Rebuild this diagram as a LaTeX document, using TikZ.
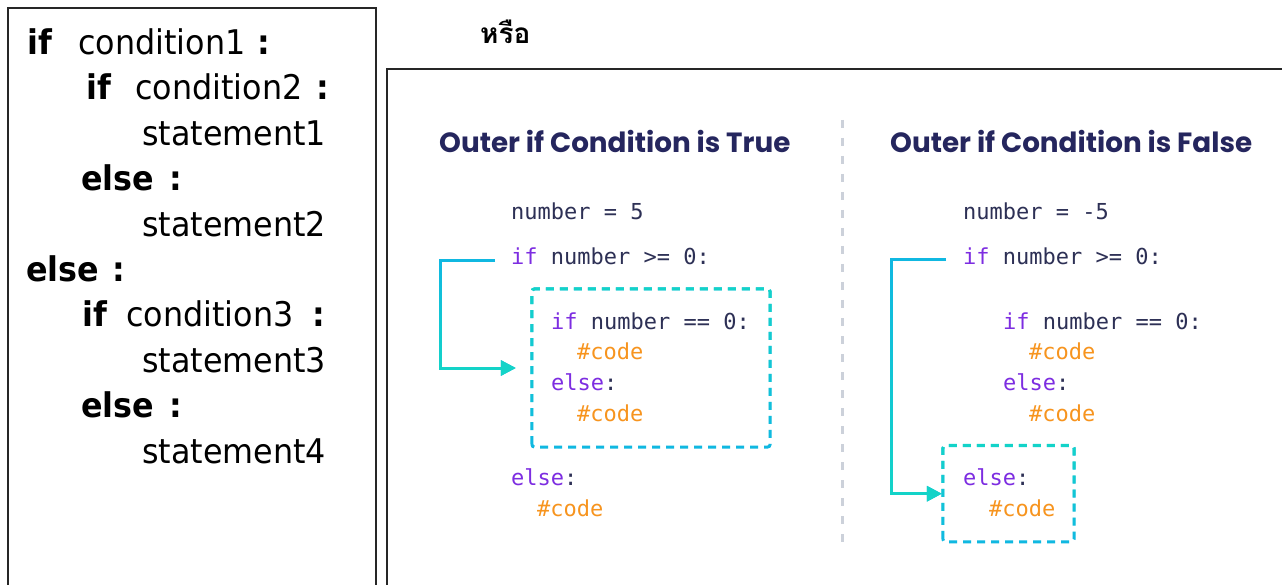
\documentclass[tikz,border=0pt]{standalone}
\usepackage{fontspec}
\usetikzlibrary{arrows.meta,fadings}
\newfontfamily\slidefont[FakeStretch=0.935]{DejaVu Sans}
\newfontfamily\thaifont[Script=Thai]{Loma}
\newfontfamily\titlefont{Poppins}
\newfontfamily\codefont{DejaVu Sans Mono}

\definecolor{codenavy}{RGB}{45,48,85}
\definecolor{kwpurple}{RGB}{125,45,225}
\definecolor{cmorange}{RGB}{247,148,30}
\definecolor{titlenavy}{RGB}{37,38,94}
\definecolor{flowblue}{RGB}{16,184,226}
\definecolor{flowturq}{RGB}{20,212,200}
\definecolor{divgray}{RGB}{204,209,218}

\tikzfading[name=fadedown, top color=transparent!100, bottom color=transparent!0]
\tikzfading[name=fadeup, top color=transparent!0, bottom color=transparent!100]

\tikzset{
  lt/.style={anchor=base west, inner sep=0pt, font=\slidefont\fontsize{34}{34}\selectfont},
  ltb/.style={anchor=base west, inner sep=0pt, font=\slidefont\bfseries\fontsize{34}{34}\selectfont},
  codeline/.style={anchor=base west, inner sep=0pt, text=codenavy, font=\codefont\fontsize{22}{22}\selectfont},
  kw/.style={codeline, text=kwpurple},
  cmt/.style={codeline, text=cmorange},
  heading/.style={anchor=base west, inner sep=0pt, text=titlenavy, font=\titlefont\bfseries\fontsize{27.8}{27.8}\selectfont},
  flow/.style={line width=3pt, -{Triangle[length=15pt,width=15pt]}},
  blockframe/.style={line width=3pt, dash pattern=on 8pt off 6pt, rounded corners=3pt},
  blockarea/.style={inner sep=0pt, draw=none},
}

\begin{document}
\begin{tikzpicture}[x=1pt,y=-1pt]
\useasboundingbox (0,0) rectangle (1282,585);
\fill[white] (0,0) rectangle (1282,585);

% ---- left frame: generic nested if/else syntax ----
\draw[line width=2pt, black!85] (7.5,600) -- (7.5,8.5) -- (375.5,8.5) -- (375.5,600);

\node[ltb] (if1) at (27,54.5) {if};
\node[lt]  (c1) at (78,54.5) {condition1};
\node[ltb] (col1) at (257,54.5) {:};

\node[ltb] (if2) at (86,99.9) {if};
\node[lt]  (c2) at (135,99.9) {condition2};
\node[ltb] (col2) at (316,99.9) {:};

\node[lt]  (s1) at (142,145.3) {statement1};

\node[ltb] (else2) at (81,190.7) {else};
\node[ltb] (col3) at (169,190.7) {:};

\node[lt]  (s2) at (142,236.1) {statement2};

\node[ltb] (else1) at (26,281.5) {else};
\node[ltb] (col4) at (112,281.5) {:};

\node[ltb] (if3) at (82,326.9) {if};
\node[lt]  (c3) at (126,326.9) {condition3};
\node[ltb] (col5) at (312,326.9) {:};

\node[lt]  (s3) at (142,372.3) {statement3};

\node[ltb] (else3) at (81,417.7) {else};
\node[ltb] (col6) at (169,417.7) {:};

\node[lt]  (s4) at (142,463.1) {statement4};

% ---- the word "or" ----
\node[anchor=base west, inner sep=0pt, font=\thaifont\bfseries\fontsize{28}{28}\selectfont] (orword) at (480,43.5) {หรือ};

% ---- right frame: execution flow ----
\draw[line width=1.5pt, black!85] (387,600) -- (387,69) -- (1300,69);

\draw[divgray, line width=3pt, dash pattern=on 8pt off 10pt] (842,120) -- (842,545);

% left column: outer condition true
\node[heading] (titleL) at (439,153) {Outer if Condition is True};
\node[codeline] (numL) at (511,220) {number = 5};
\node[codeline] (outerL) at (511,265) {\textcolor{kwpurple}{if} number >= 0:};
\node[codeline] (innerifL) at (551,329) {\textcolor{kwpurple}{if} number == 0:};
\node[cmt] (codeL1) at (577,359.5) {\#code};
\node[codeline] (innerelseL) at (551,390) {\textcolor{kwpurple}{else}:};
\node[cmt] (codeL2) at (577,421) {\#code};
\node[codeline] (outerelseL) at (511,485) {\textcolor{kwpurple}{else}:};
\node[cmt] (codeL3) at (537,516) {\#code};

\node[blockarea, minimum width=238pt, minimum height=158pt] (blockL) at (651,368) {};
\draw[blockframe, flowblue] (blockL.south west) rectangle (blockL.north east);
\draw[blockframe, flowturq, path fading=fadeup] (blockL.south west) rectangle (blockL.north east);

\coordinate (srcL) at (495,260.5);
\draw[flow, flowblue, shorten >=16pt] (srcL) -- ++(-55,0) |- (blockL.west);
\draw[flow, flowturq, shorten >=16pt, path fading=fadedown] (srcL) -- ++(-55,0) |- (blockL.west);

% right column: outer condition false
\node[heading] (titleR) at (890,153) {Outer if Condition is False};
\node[codeline] (numR) at (963,220) {number = -5};
\node[codeline] (outerR) at (963,265) {\textcolor{kwpurple}{if} number >= 0:};
\node[codeline] (innerifR) at (1003,329) {\textcolor{kwpurple}{if} number == 0:};
\node[cmt] (codeR1) at (1029,359.5) {\#code};
\node[codeline] (innerelseR) at (1003,390) {\textcolor{kwpurple}{else}:};
\node[cmt] (codeR2) at (1029,421) {\#code};
\node[codeline] (outerelseR) at (963,485.5) {\textcolor{kwpurple}{else}:};
\node[cmt] (codeR3) at (989,516.5) {\#code};

\node[blockarea, minimum width=131pt, minimum height=96pt] (blockR) at (1008.5,493.7) {};
\draw[blockframe, flowblue] (blockR.south west) rectangle (blockR.north east);
\draw[blockframe, flowturq, path fading=fadeup] (blockR.south west) rectangle (blockR.north east);

\coordinate (srcR) at (946,260);
\draw[flow, flowblue, shorten >=1pt] (srcR) -- ++(-55,0) |- (blockR.west);
\draw[flow, flowturq, shorten >=1pt, path fading=fadedown] (srcR) -- ++(-55,0) |- (blockR.west);
\end{tikzpicture}
\end{document}
